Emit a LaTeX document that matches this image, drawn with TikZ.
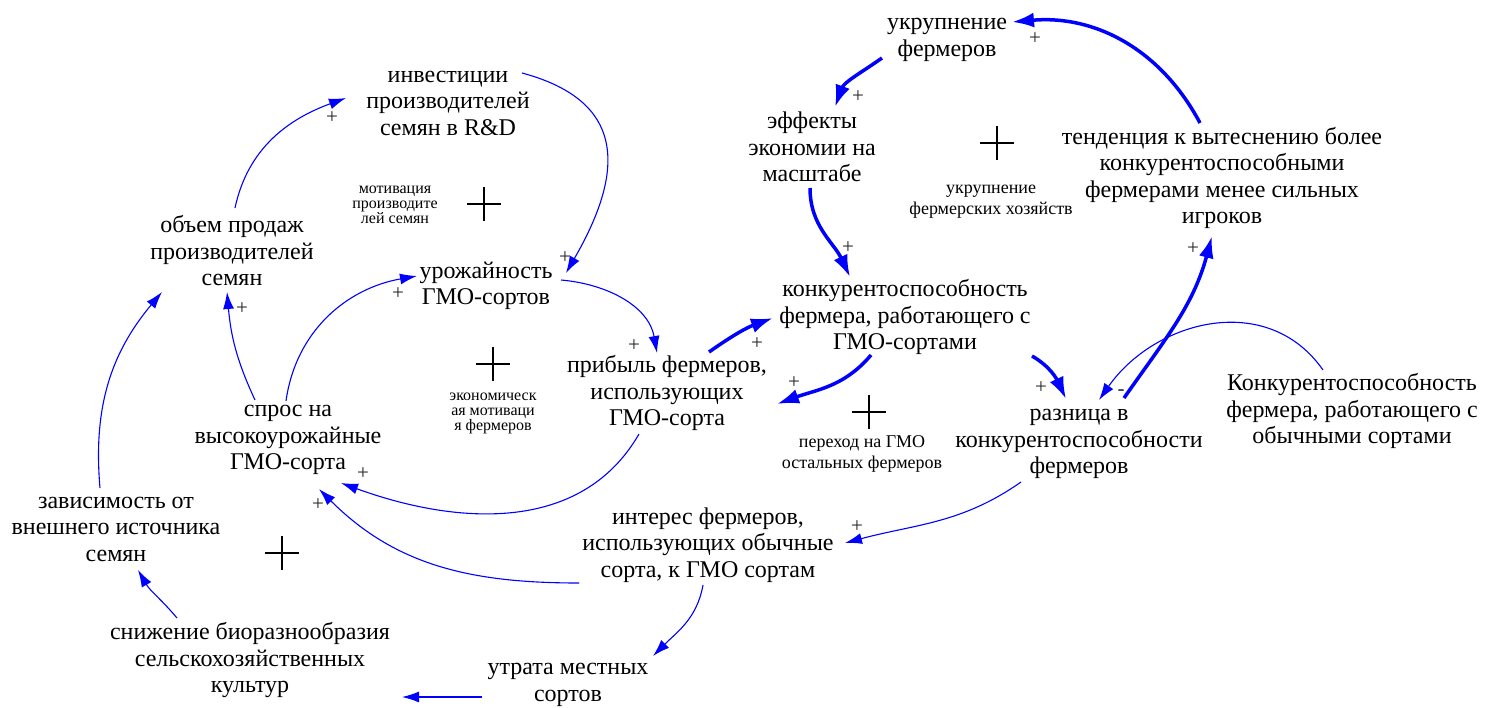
\documentclass[tikz,border=0pt]{standalone}
\usepackage{fontspec}
\setmainfont{Liberation Serif}
\usetikzlibrary{arrows.meta,calc}
\tikzset{
  var/.style={align=center, font=\fontsize{24}{26.5}\selectfont, inner sep=0pt},
  loopname/.style={align=center, font=\fontsize{18}{21}\selectfont, inner sep=0pt},
  tightname/.style={align=center, font=\fontsize{16}{15}\selectfont, inner sep=0pt},
  pol/.style={font=\fontsize{21}{21}\selectfont, inner sep=0pt, text=black!85},
  lnk/.style={draw=blue, line width=1.1pt, -{Latex[length=17pt,width=11pt]}},
  lnkb/.style={draw=blue, line width=3.5pt, -{Latex[length=22pt,width=15pt]}},
  bigplus/.pic={\draw[line width=2.4pt] (-17,0)--(17,0) (0,-17)--(0,17);}
}
\begin{document}
\begin{tikzpicture}[x=1pt,y=1pt]
\useasboundingbox (0,0) rectangle (1485,-707);
% variables
\node[var] (inv) at (448,-103) {инвестиции\\производителей\\семян в R\&D};
\node[tightname] (motiv) at (395,-205) {мотивация\\производите\\лей семян};
\node[var] (obem) at (232,-251) {объем продаж\\производителей\\семян};
\node[var] (uroz) at (486,-286) {урожайность\\ГМО-сортов};
\node[var] (spros) at (288,-440) {спрос на\\высокоурожайные\\ГМО-сорта};
\node[tightname] (econ) at (493,-413) {экономическ\\ая мотиваци\\я фермеров};
\node[var] (zavis) at (116,-529) {зависимость от\\внешнего источника\\семян};
\node[var] (sniz) at (250,-660) {снижение биоразнообразия\\сельскохозяйственных\\культур};
\node[var] (utr) at (568,-685) {утрата местных\\сортов};
\node[var] (inter) at (708,-545) {интерес фермеров,\\использующих обычные\\сорта, к ГМО сортам};
\node[var] (prib) at (667,-393) {прибыль фермеров,\\использующих\\ГМО-сорта};
\node[var] (konk) at (905,-317) {конкурентоспособность\\фермера, работающего с\\ГМО-сортами};
\node[loopname] (perehod) at (862,-454) {переход на ГМО\\остальных фермеров};
\node[var] (ukr) at (947,-40) {укрупнение\\фермеров};
\node[var] (eff) at (812,-147) {эффекты\\экономии на\\масштабе};
\node[loopname] (ukrfh) at (991,-202) {укрупнение\\фермерских хозяйств};
\node[var] (tend) at (1222,-178) {тенденция к вытеснению более\\конкурентоспособными\\фермерами менее сильных\\игроков};
\node[var] (razn) at (1079,-444) {разница в\\конкурентоспособности\\фермеров};
\node[var] (konkob) at (1352,-411) {Конкурентоспособность\\фермера, работающего с\\обычными сортами};
% loop markers
\pic at (484,-204) {bigplus};
\pic at (493,-364) {bigplus};
\pic at (282,-553) {bigplus};
\pic at (869,-412) {bigplus};
\pic at (997,-143) {bigplus};
% thin links
\draw[lnk] ($(obem)+(3,43)$) to[out=78,in=200] ($(inv)+(-102,5)$);
\draw[lnk] ($(inv)+(74,30)$) to[out=-15,in=60,looseness=1.4] ($(uroz)+(80,13)$);
\draw[lnk] ($(uroz)+(75,6)$) to[out=-5,in=100] ($(prib)+(-10,40)$);
\draw[lnk] ($(spros)+(-2,39)$) to[out=82,in=190] ($(uroz)+(-69,10)$);
\draw[lnk] ($(spros)+(-33,40)$) to[out=115,in=-85] ($(obem)+(-5,-41)$);
\draw[lnk] ($(zavis)+(-16,41)$) to[out=95,in=230] ($(obem)+(-70,-41)$);
\draw[lnk] ($(prib)+(-28,-41)$) to[out=240,in=-20] ($(spros)+(53,-43)$);
\draw[lnk] ($(inter)+(-129,-38)$) to[out=180,in=-45] ($(spros)+(31,-49)$);
\draw[lnk] ($(inter)+(-5,-40)$) to[out=-100,in=45] ($(utr)+(85,29)$);
\draw[lnk] ($(utr)+(-86,-12)$) -- ($(sniz)+(152,-37)$);
\draw[lnk] ($(sniz)+(-73,42)$) to[out=130,in=-60] ($(zavis)+(22,-41)$);
\draw[lnk] ($(razn)+(-58,-38)$) to[out=215,in=15] ($(inter)+(137,2)$);
\draw[lnk] ($(konkob)+(-29,41)$) to[out=125,in=55,looseness=1.1] ($(razn)+(20,44)$);
% thick links
\draw[lnkb] ($(ukr)+(-65,-18)$) to[out=215,in=70] ($(eff)+(23,40)$);
\draw[lnkb] ($(eff)+(-2,-41)$) to[out=-90,in=115] ($(konk)+(-55,40)$);
\draw[lnkb] ($(prib)+(42,41)$) to[out=35,in=200] ($(konk)+(-132,-1)$);
\draw[lnkb] ($(konk)+(-34,-38)$) to[out=230,in=20] ($(prib)+(110,-11)$);
\draw[lnkb] ($(konk)+(127,-39)$) to[out=-30,in=115] ($(razn)+(-13,45)$);
\draw[lnkb] ($(razn)+(45,46)$) to[out=55,in=-105] ($(tend)+(-10,-58)$);
\draw[lnkb] ($(tend)+(-22,55)$) to[out=118,in=5] ($(ukr)+(65,18)$);
% polarities
\node[pol] (p1) at (332,-118) {+};
\node[pol] (p2) at (565,-258) {+};
\node[pol] (p3) at (634,-346) {+};
\node[pol] (p4) at (398,-294) {+};
\node[pol] (p5) at (242,-309) {+};
\node[pol] (p6) at (363,-474) {+};
\node[pol] (p7) at (318,-505) {+};
\node[pol] (p8) at (857,-527) {+};
\node[pol] (p9) at (858,-97) {+};
\node[pol] (p10) at (848,-248) {+};
\node[pol] (p11) at (757,-344) {+};
\node[pol] (p12) at (794,-383) {+};
\node[pol] (p13) at (1041,-388) {+};
\node[pol] (p14) at (1193,-249) {+};
\node[pol] (p15) at (1121,-393) {-};
\node[pol] (p16) at (1035,-39) {+};
\end{tikzpicture}
\end{document}
